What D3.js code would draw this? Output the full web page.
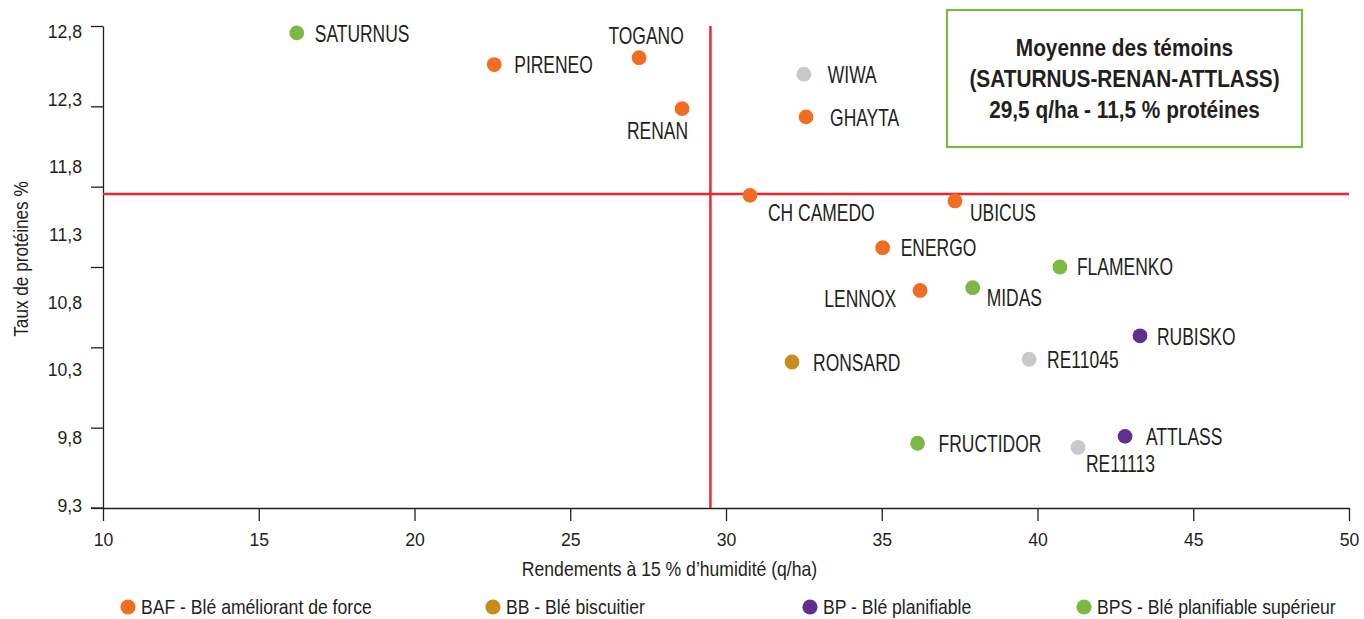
<!DOCTYPE html>
<html><head><meta charset="utf-8">
<script src="https://cdn.jsdelivr.net/npm/d3@7"></script>
<style>
body{margin:0;background:#fff;}
svg text{font-family:"Liberation Sans",Arial,sans-serif;fill:#231f20;}
</style></head><body>
<svg id="c" width="1364" height="619"></svg>
<script>
// ---- data ----
const varieties = ["SATURNUS","PIRENEO","TOGANO","RENAN","CH CAMEDO","WIWA","GHAYTA","UBICUS","ENERGO","FLAMENKO","MIDAS","LENNOX","RUBISKO","RE11045","RONSARD","FRUCTIDOR","ATTLASS","RE11113"];
const yields   = [16.22,22.56,27.21,28.59,30.77,32.50,32.57,37.35,35.03,40.72,37.92,36.23,43.29,39.73,32.12,36.15,42.81,41.30];
const proteins = [12.75,12.52,12.57,12.20,11.57,12.45,12.14,11.53,11.19,11.05,10.90,10.88,10.55,10.38,10.36,9.77,9.82,9.74];
const groups   = ["BPS","BAF","BAF","BAF","BAF","AUTRE","BAF","BAF","BAF","BPS","BPS","BAF","BP","AUTRE","BB","BPS","BP","AUTRE"];
const groupKeys = ["BAF","BB","BP","BPS","AUTRE"];
const legendKeys = ["BAF","BB","BP","BPS"];
const legendLabels = ["BAF - Blé améliorant de force","BB - Blé biscuitier","BP - Blé planifiable","BPS - Blé planifiable supérieur"];
const xTicks = [10,15,20,25,30,35,40,45,50];
const yTickLabels = [12.8,12.3,11.8,11.3,10.8,10.3,9.8,9.3];
const meanYield = 29.5;
const meanProtein = 11.58;
const boxLines = ["Moyenne des témoins","(SATURNUS-RENAN-ATTLASS)","29,5 q/ha - 11,5 % protéines"];
const xTitle = "Rendements à 15 % d’humidité (q/ha)";
const yTitle = "Taux de protéines %";

// ---- styles / layout ----
const groupColors = ["#f26d21","#c78c1c","#5e2f8d","#7cb842","#c9c9cb"];
const labelLayout = {
  "SATURNUS":[18,1,"start"],"PIRENEO":[20,1,"start"],"TOGANO":[7,-22,"middle"],"RENAN":[6,22,"end"],
  "CH CAMEDO":[18,18,"start"],"WIWA":[24,1,"start"],"GHAYTA":[24,1,"start"],"UBICUS":[15,12,"start"],
  "ENERGO":[18,0,"start"],"FLAMENKO":[17,0,"start"],"MIDAS":[14,10,"start"],"LENNOX":[-24,9,"end"],
  "RUBISKO":[17,1,"start"],"RE11045":[18,1,"start"],"RONSARD":[21,1,"start"],"FRUCTIDOR":[21,1,"start"],
  "ATTLASS":[21,1,"start"],"RE11113":[8,17,"start"]
};
const legendX = [128,493,810,1084];
const originOf = {start:"0% 50%", middle:"50% 50%", end:"100% 50%"};
function narrow(sel, s, origin){
  sel.style("transform-box","fill-box").style("transform-origin",origin).style("transform",`scaleX(${s})`);
}

const svg = d3.select("#c");
const L = 103, R = 1349, T = 26, B = 508;
const x = d3.scaleLinear().domain([10,50]).range([L,R]);
const y = d3.scaleLinear().domain([9.3,12.8]).range([B,T]);
const yLab = d3.scaleLinear().domain([9.3,12.8]).range([505,31.5]);
const color = d3.scaleOrdinal().domain(groupKeys).range(groupColors);

// y axis: tick marks
const yMarks = d3.range(7).map(i => 9.3 + i*3.5/6);
svg.append("g").attr("transform",`translate(${L},0)`)
  .call(d3.axisLeft(y).tickValues(yMarks).tickFormat("").tickSize(12).tickSizeOuter(0))
  .call(g => g.selectAll("line,path").attr("stroke","#231f20").attr("stroke-width",1.3));
// y axis: labels
svg.append("g").attr("transform",`translate(${L},0)`)
  .call(d3.axisLeft(yLab).tickValues(yTickLabels).tickFormat(d => d3.format(".1f")(d).replace(".",",")).tickSize(0).tickPadding(21))
  .call(g => g.select("path").remove())
  .call(g => g.selectAll("text").attr("font-size",19).attr("fill","#231f20").attr("font-family",null)
    .call(narrow,0.93,originOf.end));

// x axis
svg.append("g").attr("transform",`translate(0,${B})`)
  .call(d3.axisBottom(x).tickValues(xTicks).tickSize(13).tickSizeOuter(0).tickPadding(12))
  .call(g => g.selectAll("line,path").attr("stroke","#231f20").attr("stroke-width",1.3))
  .call(g => g.selectAll("text").attr("font-size",19).attr("fill","#231f20").call(narrow,0.93,originOf.middle));
svg.selectAll("g").attr("font-family",null);

// extend x-axis line left (9,3 tick)
svg.append("line").attr("x1",L-12).attr("x2",L).attr("y1",y(9.3)).attr("y2",y(9.3))
  .attr("stroke","#231f20").attr("stroke-width",1.3);

// titles
svg.append("text").attr("x",669.5).attr("y",569).attr("text-anchor","middle")
  .attr("dominant-baseline","central").attr("font-size",20).text(xTitle).call(narrow,0.88,originOf.middle);
svg.append("g").attr("transform",`translate(21.5,259) rotate(-90)`)
  .append("text").attr("text-anchor","middle")
  .attr("dominant-baseline","central").attr("font-size",19.5).text(yTitle).call(narrow,0.88,originOf.middle);

// mean lines
svg.append("line").attr("x1",x(meanYield)).attr("x2",x(meanYield)).attr("y1",T).attr("y2",B)
  .attr("stroke","#ec2530").attr("stroke-width",2.5);
svg.append("line").attr("x1",L).attr("x2",R).attr("y1",y(meanProtein)).attr("y2",y(meanProtein))
  .attr("stroke","#ec2530").attr("stroke-width",2.5);

// points
const pts = varieties.map((v,i)=>({name:v,x:yields[i],y:proteins[i],g:groups[i]}));
svg.append("g").selectAll("circle").data(pts).join("circle")
  .attr("cx",d=>x(d.x)).attr("cy",d=>y(d.y)).attr("r",7.4).attr("fill",d=>color(d.g));
svg.append("g").selectAll("text").data(pts).join("text")
  .attr("x",d=>x(d.x)+labelLayout[d.name][0]).attr("y",d=>y(d.y)+labelLayout[d.name][1])
  .attr("text-anchor",d=>labelLayout[d.name][2]).attr("dominant-baseline","central")
  .attr("font-size",23).text(d=>d.name)
  .style("transform-box","fill-box").style("transform","scaleX(0.76)")
  .style("transform-origin",d=>originOf[labelLayout[d.name][2]]);

// box
const box = svg.append("g");
box.append("rect").attr("x",947).attr("y",10).attr("width",355).attr("height",137)
  .attr("fill","#fff").attr("stroke","#7cb842").attr("stroke-width",2.2);
box.selectAll("text").data(boxLines).join("text")
  .attr("x",1124.5).attr("y",(d,i)=>47+i*31).attr("text-anchor","middle").attr("dominant-baseline","central")
  .attr("font-size",24.5).attr("font-weight","bold").text(d=>d).call(narrow,0.85,originOf.middle);

// legend
const lg = svg.append("g").selectAll("g").data(legendKeys).join("g")
  .attr("transform",(d,i)=>`translate(${legendX[i]},607)`);
lg.append("circle").attr("r",7.6).attr("fill",d=>color(d));
lg.append("text").attr("x",13).attr("dominant-baseline","central").attr("font-size",20)
  .text((d,i)=>legendLabels[i]).call(narrow,0.88,originOf.start);
</script>
</body></html>
